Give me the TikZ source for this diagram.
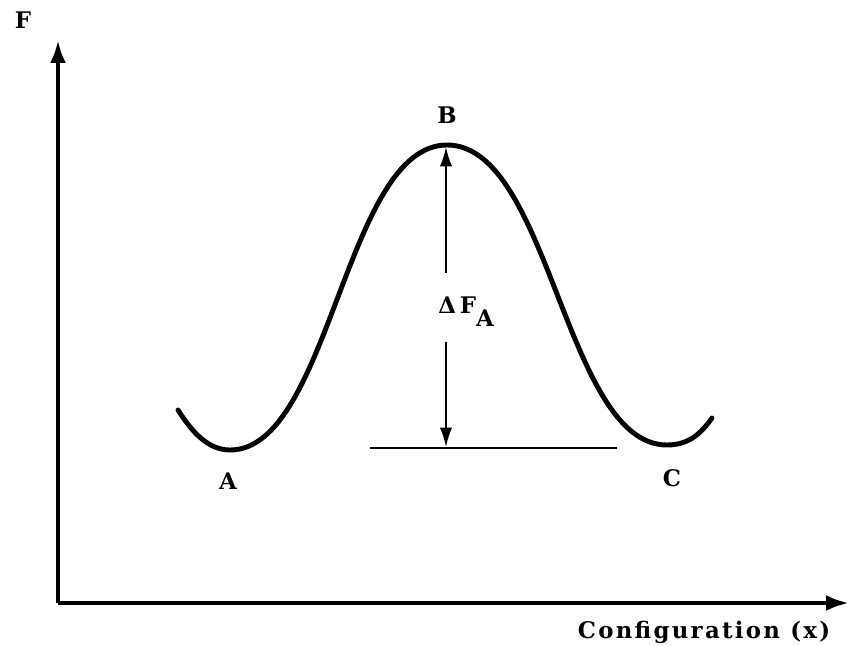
\documentclass[tikz,border=0pt]{standalone}
\usepackage{fontspec}
\setmainfont{DejaVu Serif}[LetterSpace=10]
\usetikzlibrary{arrows.meta, positioning}
\tikzset{
  every picture/.style={font=\fontsize{13}{15}\selectfont\bfseries},
  axis/.style={-{Latex[length=13pt, width=9pt]}, line width=2.3pt},
  curve/.style={line width=2.8pt, line cap=round},
  gap/.style={-{Latex[length=11pt, width=7pt]}, line width=1.1pt},
  lbl/.style={inner sep=1pt},
}
\begin{document}
\begin{tikzpicture}[x=0.02cm, y=-0.02cm]
  \useasboundingbox (0,0) rectangle (850,646);
  \coordinate (origin) at (58,603);
  \coordinate (ytip) at (58,40);
  \coordinate (xtip) at (849,603);
  \draw[axis] (origin) -- (ytip);
  \draw[axis] (origin) -- (xtip);
  \node[lbl] (ylab) at (23,20) {F};
  \node[lbl] (xlab) at (704,632) {Configuration (x)};
  % free energy curve A - B - C
  \coordinate (minA) at (230,450);
  \coordinate (topB) at (447,145);
  \coordinate (minC) at (667,445);
  \draw[curve] (178,410) .. controls (192,432) and (208,450) .. (minA)
    .. controls (330,450) and (345,145) .. (topB)
    .. controls (550,145) and (565,445) .. (minC)
    .. controls (690,445) and (702,432) .. (712,418);
  \coordinate (peak) at (446,147);
  \coordinate (base) at (446,447);
  \coordinate (gaptop) at (446,273);
  \coordinate (gapbot) at (446,342);
  \draw[line width=1.4pt] (370,448) -- (617,448);
  \node[lbl] (dfa) at (466,312) {Δ\,F\raisebox{-1.1ex}{A}};
  \draw[gap] (gaptop) -- (peak);
  \draw[gap] (gapbot) -- (base);
  \node[lbl] (lA) at (228,481) {A};
  \node[lbl] (lB) at (447,115) {B};
  \node[lbl] (lC) at (672,478) {C};
\end{tikzpicture}
\end{document}
